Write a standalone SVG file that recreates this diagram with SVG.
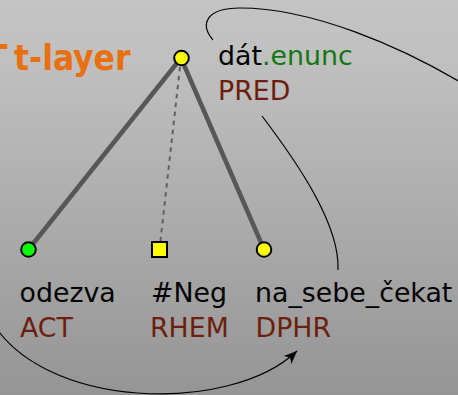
<svg xmlns="http://www.w3.org/2000/svg" width="458" height="395" viewBox="0 0 458 395">
<defs>
<linearGradient id="bg" x1="0" y1="0" x2="0" y2="1">
<stop offset="0" stop-color="#c4c4c4"/>
<stop offset="0.15" stop-color="#c0c0c0"/>
<stop offset="1" stop-color="#959595"/>
</linearGradient>
<marker id="arr" markerUnits="userSpaceOnUse" markerWidth="16" markerHeight="14" viewBox="-14 -7 16 14" refX="0" refY="0" orient="auto">
<path d="M0,0 L-13,-5.5 L-9.5,0 L-13,5.5 Z" fill="#000"/>
</marker>
<style>
.lbl{font-family:"DejaVu Sans","Liberation Sans",sans-serif;font-size:26.8px;fill:#000}
.fn{fill:#6d1e0d}
.ext{fill:#107810}
.edge{stroke:#575757;stroke-width:4.5;fill:none;stroke-linecap:round}
.dot{stroke:#606060;stroke-width:2;fill:none;stroke-dasharray:4.5 4.5}
.cur{stroke:#000;stroke-width:1.2;fill:none}
.nd{stroke:#000;stroke-width:2}
</style>
</defs>
<rect x="0" y="0" width="458" height="395" fill="url(#bg)"/>
<text y="70" font-family="'DejaVu Sans Condensed','DejaVu Sans',sans-serif" font-stretch="condensed" font-weight="bold" font-size="35" fill="#e8700e"><tspan x="-14">T</tspan> <tspan x="14">t-layer</tspan></text>
<g id="connectors">
<line class="edge" x1="181" y1="58" x2="28.5" y2="249.5"/>
<line class="edge" x1="181" y1="58" x2="264" y2="249.5"/>
<line class="dot" x1="181" y1="58" x2="159.5" y2="249.5"/>
<path class="cur" d="M213,40 C200,25 205,8 240,8 C310,8 400,45 470,88"/>
<path class="cur" d="M262,116 C300,166 340,226 338,270"/>
<path class="cur" d="M-10,318 C40,410 230,415 297,351" marker-end="url(#arr)"/>
</g>
<g id="n-root">
<circle class="nd" cx="181.5" cy="58" r="7.3" fill="#ffff00"/>
<text class="lbl" x="218" y="65">dát<tspan class="ext">.enunc</tspan></text>
<text class="lbl fn" x="218" y="100">PRED</text>
</g>
<g id="n-odezva">
<circle class="nd" cx="28.5" cy="249.5" r="7.3" fill="#00ff00"/>
<text class="lbl" x="19.5" y="302">odezva</text>
<text class="lbl fn" x="20" y="337">ACT</text>
</g>
<g id="n-neg">
<rect class="nd" x="152" y="242" width="15" height="15" fill="#ffff00"/>
<text class="lbl" x="151" y="302">#Neg</text>
<text class="lbl fn" x="150" y="337">RHEM</text>
</g>
<g id="n-nasebe">
<circle class="nd" cx="264" cy="249.5" r="7.3" fill="#ffff00"/>
<text class="lbl" x="255" y="302">na_sebe_čekat</text>
<text class="lbl fn" x="255.5" y="337">DPHR</text>
</g>
</svg>
